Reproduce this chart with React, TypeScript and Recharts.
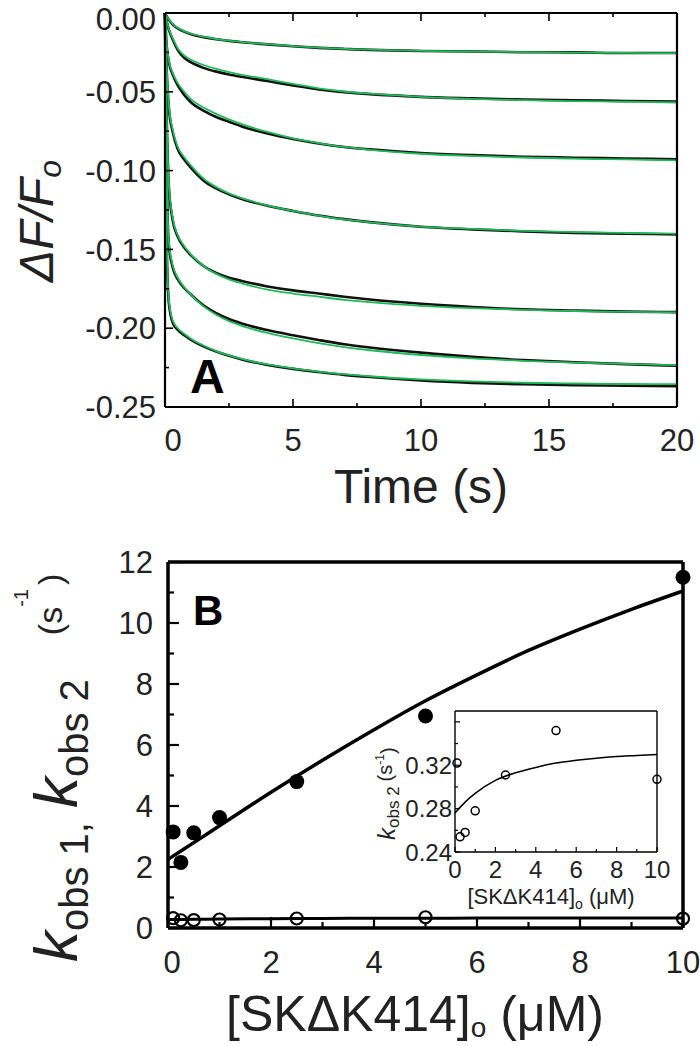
import React from "react";
import { LineChart, ComposedChart, Line, Scatter, XAxis, YAxis } from "recharts";

const FONT = '"Liberation Sans", Arial, Helvetica, sans-serif';
const GREEN = "#1fb85a";

// ---- panel A : stopped-flow traces (dF/Fo vs time) ----
const times = [0, 0.05, 0.15, 0.3, 0.5, 0.75, 1, 1.5, 2, 2.5, 3, 4, 5, 6, 7, 8, 10, 12, 14, 16, 18, 20];

// black data traces
const trace1 = [0, -0.0016, -0.0042, -0.0073, -0.0098, -0.0118, -0.0133, -0.0153, -0.0167, -0.0177, -0.0186, -0.0199, -0.0211, -0.0221, -0.0228, -0.0234, -0.0241, -0.0244, -0.0249, -0.025, -0.0254, -0.0254];
const trace2 = [0, -0.0042, -0.0105, -0.0168, -0.0235, -0.0285, -0.0312, -0.0348, -0.0372, -0.039, -0.0405, -0.0432, -0.046, -0.0485, -0.0502, -0.0515, -0.0532, -0.0542, -0.0549, -0.0554, -0.0558, -0.0562];
const trace3 = [0, -0.017, -0.031, -0.039, -0.046, -0.052, -0.0565, -0.062, -0.066, -0.069, -0.072, -0.0765, -0.08, -0.0828, -0.085, -0.0865, -0.0888, -0.0902, -0.0912, -0.0918, -0.0923, -0.0928];
const trace4 = [0, -0.029, -0.06, -0.0755, -0.0865, -0.093, -0.098, -0.1062, -0.1113, -0.115, -0.118, -0.1223, -0.1256, -0.1285, -0.1308, -0.1327, -0.1356, -0.1373, -0.1386, -0.1395, -0.14, -0.1405];
const trace5 = [0, -0.052, -0.11, -0.1315, -0.142, -0.1488, -0.1535, -0.1605, -0.165, -0.168, -0.17, -0.1735, -0.176, -0.178, -0.18, -0.1818, -0.1845, -0.1865, -0.188, -0.1888, -0.1895, -0.1898];
const trace6 = [0, -0.082, -0.147, -0.1615, -0.169, -0.1745, -0.1785, -0.1855, -0.1905, -0.1942, -0.197, -0.2012, -0.2045, -0.2075, -0.2102, -0.2122, -0.2155, -0.2182, -0.2202, -0.2216, -0.2228, -0.2238];
const trace7 = [0, -0.133, -0.184, -0.1965, -0.201, -0.2045, -0.2072, -0.2115, -0.2148, -0.2175, -0.2198, -0.2233, -0.2258, -0.2278, -0.2296, -0.231, -0.2332, -0.2347, -0.2356, -0.2362, -0.2365, -0.2368];

// green fitted curves
const fit1 = [0, -0.0015, -0.004, -0.007, -0.0095, -0.0115, -0.013, -0.015, -0.0165, -0.0175, -0.0185, -0.0198, -0.021, -0.022, -0.0228, -0.0233, -0.024, -0.0245, -0.0248, -0.0251, -0.0253, -0.0255];
const fit2 = [0, -0.004, -0.01, -0.016, -0.0225, -0.027, -0.0295, -0.033, -0.0355, -0.0375, -0.0392, -0.042, -0.045, -0.0478, -0.0498, -0.0512, -0.0532, -0.0545, -0.0553, -0.0559, -0.0563, -0.0568];
const fit3 = [0, -0.016, -0.03, -0.038, -0.0445, -0.05, -0.0545, -0.06, -0.064, -0.0675, -0.0705, -0.0755, -0.0795, -0.0825, -0.085, -0.0868, -0.0893, -0.0907, -0.0917, -0.0924, -0.0929, -0.0935];
const fit4 = [0, -0.028, -0.058, -0.074, -0.085, -0.0915, -0.0965, -0.105, -0.1105, -0.1145, -0.1175, -0.122, -0.1255, -0.1285, -0.131, -0.1328, -0.1355, -0.137, -0.1382, -0.139, -0.1396, -0.14];
const fit5 = [0, -0.05, -0.108, -0.13, -0.141, -0.148, -0.153, -0.1605, -0.1655, -0.169, -0.1715, -0.1755, -0.178, -0.18, -0.182, -0.1835, -0.1858, -0.1873, -0.1884, -0.1891, -0.1896, -0.19];
const fit6 = [0, -0.08, -0.145, -0.16, -0.168, -0.174, -0.1785, -0.186, -0.1915, -0.1955, -0.1985, -0.203, -0.2065, -0.2095, -0.212, -0.214, -0.217, -0.2192, -0.2207, -0.2218, -0.2227, -0.2234];
const fit7 = [0, -0.13, -0.182, -0.195, -0.2, -0.2035, -0.2065, -0.211, -0.2145, -0.2172, -0.2195, -0.223, -0.2255, -0.2275, -0.2292, -0.2305, -0.2325, -0.2338, -0.2346, -0.2351, -0.2354, -0.2355];

const traces = [trace1, trace2, trace3, trace4, trace5, trace6, trace7];
const fits = [fit1, fit2, fit3, fit4, fit5, fit6, fit7];

const xTicksA = [0, 2.5, 5, 7.5, 10, 12.5, 15, 17.5, 20];
const xMajorA = [0, 5, 10, 15, 20];
const yTicksA = [0, -0.025, -0.05, -0.075, -0.1, -0.125, -0.15, -0.175, -0.2, -0.225, -0.25];
const yMajorA = [0, -0.05, -0.1, -0.15, -0.2, -0.25];

// ---- panel B : observed rate constants vs [SKdK414] ----
const conc = [0.1, 0.25, 0.5, 1, 2.5, 5, 10];
const kobs1 = [3.15, 2.15, 3.12, 3.62, 4.8, 6.95, 11.5];
const kobs2 = [0.322, 0.254, 0.258, 0.278, 0.311, 0.352, 0.307];
const fitConc = [0, 0.5, 1, 2, 3, 4, 5, 6, 7, 8, 9, 10];
const kobs1Fit = [2.25, 2.8, 3.35, 4.45, 5.5, 6.5, 7.45, 8.3, 9.1, 9.8, 10.45, 11.05];
const kobs2Fit = [0.276, 0.286, 0.294, 0.306, 0.313, 0.318, 0.322, 0.3245, 0.3265, 0.328, 0.329, 0.33];

const xTicksB = [0, 1, 2, 3, 4, 5, 6, 7, 8, 9, 10];
const xMajorB = [0, 2, 4, 6, 8, 10];
const yTicksB = [0, 1, 2, 3, 4, 5, 6, 7, 8, 9, 10, 11, 12];
const yMajorB = [0, 2, 4, 6, 8, 10, 12];
const yTicksInset = [0.24, 0.26, 0.28, 0.3, 0.32, 0.34, 0.36];
const yMajorInset = [0.24, 0.28, 0.32, 0.36];
const yLabelInset = [0.24, 0.28, 0.32];

const tableA = times.map((t, i) => {
  const row: any = { t };
  traces.forEach((s, k) => (row["d" + k] = s[i]));
  fits.forEach((s, k) => (row["f" + k] = s[i]));
  return row;
});
const pts1 = conc.map((x, i) => ({ x, y: kobs1[i] }));
const pts2 = conc.map((x, i) => ({ x, y: kobs2[i] }));
const line1 = fitConc.map((x, i) => ({ x, y: kobs1Fit[i] }));
const line2 = fitConc.map((x, i) => ({ x, y: kobs2Fit[i] }));

type TickCfg = {
  side: "left" | "right" | "top" | "bottom";
  majors: number[];
  labelled?: number[];
  majorLen: number;
  minorLen: number;
  width: number;
  fontSize?: number;
  gap?: number;
  digits?: number;
  shift?: Record<string, number>; // nudges a single label along the axis
};

const has = (list: number[] | undefined, v: number) =>
  !!list && list.some((m) => Math.abs(m - v) < 1e-9);

// inward tick marks (plus labels on the left / bottom axes)
const tickRenderer = (c: TickCfg) => (p: any) => {
  const v: number = p.payload.value;
  const len = has(c.majors, v) ? c.majorLen : c.minorLen;
  const { x, y } = p;
  const ls = { stroke: "#000", strokeWidth: c.width };
  const show = has(c.labelled, v);
  const text = c.digits === undefined ? String(v) : v.toFixed(c.digits);
  const nudge = (c.shift && c.shift[String(v)]) || 0;
  const txt = { fontSize: c.fontSize, fontFamily: FONT, fill: "#222" };
  if (c.side === "bottom")
    return (
      <g>
        <line x1={x} x2={x} y1={y} y2={y - len} {...ls} />
        {show && (
          <text x={x + nudge} y={y + (c.gap || 0)} textAnchor="middle" {...txt}>
            {text}
          </text>
        )}
      </g>
    );
  if (c.side === "top")
    return <line x1={x} x2={x} y1={y} y2={y + len} {...ls} />;
  if (c.side === "right")
    return <line x1={x} x2={x - len} y1={y} y2={y} {...ls} />;
  return (
    <g>
      <line x1={x} x2={x + len} y1={y} y2={y} {...ls} />
      {show && (
        <text x={x - (c.gap || 0)} y={y + nudge} dy="0.36em" textAnchor="end" {...txt}>
          {text}
        </text>
      )}
    </g>
  );
};

const filledDot = (p: any) => <circle cx={p.cx} cy={p.cy} r={7.5} fill="#000" />;
const openDot = (r: number, w: number) => (p: any) => (
  <circle cx={p.cx} cy={p.cy} r={r} fill="none" stroke="#000" strokeWidth={w} />
);

// axes get a 1px size (recharts skips 0-sized axes), margins are trimmed by that pixel
const PanelA = () => {
  const ax = { stroke: "#000", strokeWidth: 2.2 };
  const base = { tickSize: 0, tickMargin: 0, interval: 0 as const, axisLine: ax, tickLine: false };
  return (
    <LineChart width={700} height={500} data={tableA} margin={{ top: 12, right: 22, bottom: 92, left: 164 }}>
      <XAxis
        {...base}
        dataKey="t"
        type="number"
        domain={[0, 20]}
        ticks={xTicksA}
        height={1}
        tick={tickRenderer({ side: "bottom", majors: xMajorA, labelled: xMajorA, majorLen: 8, minorLen: 4, width: 1.6, fontSize: 31, gap: 44, shift: { "0": 8 } })}
      />
      <XAxis
        {...base}
        xAxisId="top"
        orientation="top"
        dataKey="t"
        type="number"
        domain={[0, 20]}
        ticks={xTicksA}
        height={1}
        tick={tickRenderer({ side: "top", majors: xMajorA, majorLen: 8, minorLen: 4, width: 1.6 })}
      />
      <YAxis
        {...base}
        type="number"
        domain={[-0.25, 0]}
        ticks={yTicksA}
        width={1}
        allowDataOverflow
        tick={tickRenderer({ side: "left", majors: yMajorA, labelled: yMajorA, majorLen: 8, minorLen: 4, width: 1.6, fontSize: 31, gap: 9, digits: 2, shift: { "0": 6 } })}
      />
      <YAxis
        {...base}
        yAxisId="right"
        orientation="right"
        type="number"
        domain={[-0.25, 0]}
        ticks={yTicksA}
        width={1}
        tick={tickRenderer({ side: "right", majors: yMajorA, majorLen: 8, minorLen: 4, width: 1.6 })}
      />
      {traces.map((_, k) => (
        <Line key={"d" + k} dataKey={"d" + k} type="monotone" stroke="#111" strokeWidth={2.6} dot={false} isAnimationActive={false} />
      ))}
      {fits.map((_, k) => (
        <Line key={"f" + k} dataKey={"f" + k} type="monotone" stroke={GREEN} strokeWidth={1.8} dot={false} isAnimationActive={false} />
      ))}
    </LineChart>
  );
};

const PanelB = () => {
  const ax = { stroke: "#000", strokeWidth: 3.5 };
  const base = { tickSize: 0, tickMargin: 0, interval: 0 as const, axisLine: ax, tickLine: false };
  return (
    <ComposedChart width={700} height={526} margin={{ top: 41, right: 16, bottom: 117, left: 167 }}>
      <XAxis
        {...base}
        dataKey="x"
        type="number"
        domain={[0, 10]}
        ticks={xTicksB}
        height={1}
        tick={tickRenderer({ side: "bottom", majors: xMajorB, labelled: xMajorB, majorLen: 11, minorLen: 6, width: 2.2, fontSize: 31, gap: 45, shift: { "0": 4 } })}
      />
      <XAxis
        {...base}
        xAxisId="top"
        orientation="top"
        dataKey="x"
        type="number"
        domain={[0, 10]}
        ticks={xTicksB}
        height={1}
        tick={tickRenderer({ side: "top", majors: xMajorB, majorLen: 11, minorLen: 6, width: 2.2 })}
      />
      <YAxis
        {...base}
        dataKey="y"
        type="number"
        domain={[0, 12]}
        ticks={yTicksB}
        width={1}
        tick={tickRenderer({ side: "left", majors: yMajorB, labelled: yMajorB, majorLen: 11, minorLen: 6, width: 2.2, fontSize: 31, gap: 15 })}
      />
      <YAxis
        {...base}
        yAxisId="right"
        orientation="right"
        type="number"
        domain={[0, 12]}
        ticks={yTicksB}
        width={1}
        tick={tickRenderer({ side: "right", majors: yMajorB, majorLen: 11, minorLen: 6, width: 2.2 })}
      />
      <Line data={line1} dataKey="y" type="monotone" stroke="#000" strokeWidth={3.5} dot={false} isAnimationActive={false} />
      <Line data={line2} dataKey="y" type="monotone" stroke="#000" strokeWidth={3} dot={false} isAnimationActive={false} />
      <Scatter data={pts1} dataKey="y" shape={filledDot} isAnimationActive={false} />
      <Scatter data={pts2} dataKey="y" shape={openDot(6, 2.2)} isAnimationActive={false} />
    </ComposedChart>
  );
};

const Inset = () => {
  const ax = { stroke: "#000", strokeWidth: 1.4 };
  const base = { tickSize: 0, tickMargin: 0, interval: 0 as const, axisLine: ax, tickLine: false };
  return (
    <ComposedChart width={300} height={230} margin={{ top: 20, right: 22, bottom: 67, left: 74 }}>
      <XAxis
        {...base}
        dataKey="x"
        type="number"
        domain={[0, 10]}
        ticks={xTicksB}
        height={1}
        tick={tickRenderer({ side: "bottom", majors: xMajorB, labelled: xMajorB, majorLen: 5, minorLen: 3, width: 1.2, fontSize: 24, gap: 26 })}
      />
      <XAxis
        {...base}
        xAxisId="top"
        orientation="top"
        dataKey="x"
        type="number"
        domain={[0, 10]}
        ticks={xTicksB}
        height={1}
        tick={tickRenderer({ side: "top", majors: xMajorB, majorLen: 5, minorLen: 3, width: 1.2 })}
      />
      <YAxis
        {...base}
        dataKey="y"
        type="number"
        domain={[0.24, 0.37]}
        ticks={yTicksInset}
        width={1}
        allowDataOverflow
        tick={tickRenderer({ side: "left", majors: yMajorInset, labelled: yLabelInset, majorLen: 5, minorLen: 3, width: 1.2, fontSize: 24, gap: 3, digits: 2 })}
      />
      <YAxis
        {...base}
        yAxisId="right"
        orientation="right"
        type="number"
        domain={[0.24, 0.37]}
        ticks={yTicksInset}
        width={1}
        tick={tickRenderer({ side: "right", majors: yMajorInset, majorLen: 5, minorLen: 3, width: 1.2 })}
      />
      <Line data={line2} dataKey="y" type="monotone" stroke="#000" strokeWidth={1.5} dot={false} isAnimationActive={false} />
      <Scatter data={pts2} dataKey="y" shape={openDot(4, 1.5)} isAnimationActive={false} />
    </ComposedChart>
  );
};

// axis titles and panel letters
const Labels = () => (
  <svg width={700} height={1046} style={{ position: "absolute", left: 0, top: 0, pointerEvents: "none" }} fontFamily={FONT}>
    <text transform="translate(53,282) rotate(-90)" fontSize={48} fontStyle="italic" fill="#222">
      ΔF/F<tspan fontSize={32} dy={8}>o</tspan>
    </text>
    <text x={190} y={393} fontSize={48} fontWeight="bold">A</text>
    <text x={421} y={503} fontSize={48} textAnchor="middle" fill="#222">Time (s)</text>

    <text x={193} y={625} fontSize={42} fontWeight="bold">B</text>
    <text transform="translate(77,962) rotate(-90)" fill="#222">
      <tspan fontSize={62} fontStyle="italic">k</tspan>
      <tspan fontSize={40} dy={11}>obs 1,</tspan>
      <tspan fontSize={62} fontStyle="italic" dx={14} dy={-11}>k</tspan>
      <tspan fontSize={40} dy={11}>obs 2</tspan>
      <tspan fontSize={34} dx={44} dy={-26}>(s</tspan>
      <tspan fontSize={20} dy={-34}>-1</tspan>
      <tspan fontSize={34} dx={4} dy={34}>)</tspan>
    </text>
    <text x={415} y={1031} fontSize={50} textAnchor="middle" fill="#222">
      [SKΔK414]<tspan fontSize={28} dy={6}>o</tspan>
      <tspan dy={-6}> (μM)</tspan>
    </text>

    <text transform="translate(395,840) rotate(-90)" fill="#222">
      <tspan fontSize={24} fontStyle="italic">k</tspan>
      <tspan fontSize={17} dy={4}>obs 2</tspan>
      <tspan fontSize={20} dx={5} dy={-7}>(s</tspan>
      <tspan fontSize={12} dy={-8}>-1</tspan>
      <tspan fontSize={20} dy={11}>)</tspan>
    </text>
    <text x={551} y={904} fontSize={22} textAnchor="middle" fill="#222">
      [SKΔK414]<tspan fontSize={14} dy={5}>o</tspan>
      <tspan dy={-5}> (μM)</tspan>
    </text>
  </svg>
);

export default function App() {
  return (
    <div style={{ position: "absolute", left: 0, top: 0, width: 700, height: 1046, background: "#fff", fontFamily: FONT }}>
      <div style={{ position: "absolute", left: 0, top: 0 }}>
        <PanelA />
      </div>
      <div style={{ position: "absolute", left: 0, top: 520 }}>
        <PanelB />
      </div>
      <div style={{ position: "absolute", left: 380, top: 690 }}>
        <Inset />
      </div>
      <Labels />
    </div>
  );
}
